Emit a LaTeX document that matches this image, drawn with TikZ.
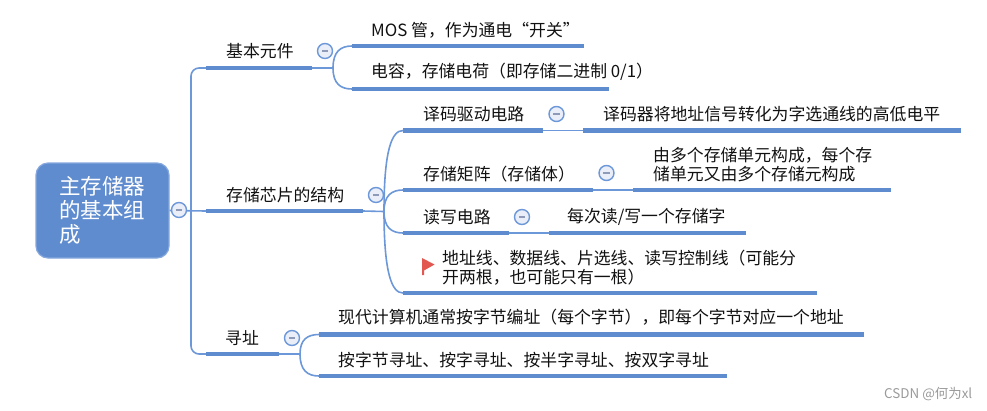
\documentclass[tikz,border=0pt]{standalone}
\usepackage{fontspec}
\setmainfont{Noto Sans CJK SC}
\usetikzlibrary{calc}
\definecolor{mapblue}{HTML}{5F8CCF}
\definecolor{thinblue}{HTML}{6C97D8}
\definecolor{rootedge}{HTML}{86A8DE}
\definecolor{inkdark}{HTML}{111111}
\definecolor{btnfill}{HTML}{E9EEF8}
\definecolor{btnminus}{HTML}{8E9BB8}
\definecolor{flagred}{HTML}{E2574F}
\definecolor{markgrey}{HTML}{9A9A9A}
\tikzset{
  rootbox/.style={draw=rootedge,line width=1.2pt,fill=mapblue,rounded corners=12pt,minimum width=133pt,minimum height=95pt,inner sep=0pt},
  roottext/.style={text=white,anchor=north west,inner sep=0pt,align=left,font=\fontsize{21.5}{24}\selectfont},
  txtlabel/.style={text=inkdark,anchor=west,inner sep=0pt,align=left,font=\fontsize{16.85}{19}\selectfont},
  thickbar/.style={draw=mapblue,line width=4.4pt},
  thinbar/.style={draw=thinblue,line width=1.6pt},
  collapse/.style={circle,draw=thinblue,line width=1.4pt,fill=btnfill,minimum size=15pt,inner sep=0pt},
  minusbar/.style={draw=btnminus,line width=1.2pt},
}
\newcommand{\collapsemark}[3]{\node[collapse] (#1) at (#2,#3) {};\draw[minusbar] ([xshift=-3.2pt]#1.center) -- ([xshift=3.2pt]#1.center);}
\newcommand{\fan}[2]{\draw[thinbar] (#1) .. controls ($(#1)!0.75!(#1|-#2)$) and ($(#2)!0.6!(#1|-#2)$) .. (#2);}
\newcommand{\thickrule}[2]{\draw[thickbar] (#1) -- (#2);}
\newcommand{\thinlink}[2]{\draw[thinbar] (#1) -- (#2);}
\begin{document}
\begin{tikzpicture}[x=1pt,y=-1pt]
\useasboundingbox (0,0) rectangle (987,410);
% bar end points
\coordinate (a1) at (206,68);   \coordinate (a2) at (312,68);
\coordinate (b1) at (206,211);  \coordinate (b2) at (363,211);
\coordinate (c1) at (206,354);  \coordinate (c2) at (279,354);
\coordinate (ja) at (333,68);   \coordinate (jb) at (384,211.5); \coordinate (jc) at (300,354);
\coordinate (trunk) at (191,354);
\coordinate (a11) at (352,46);  \coordinate (a12) at (584,46);
\coordinate (a21) at (352,89);  \coordinate (a22) at (609,89);
\coordinate (d1) at (403,130.5); \coordinate (d2) at (543,130.5);
\coordinate (d3) at (583,130.5); \coordinate (d4) at (961,130.5);
\coordinate (e1) at (403,190);  \coordinate (e2) at (593,190);
\coordinate (e3) at (633,190);  \coordinate (e4) at (891,190);
\coordinate (f1) at (403,233);  \coordinate (f2) at (509,233);
\coordinate (f3) at (549,233);  \coordinate (f4) at (746,233);
\coordinate (g1) at (403,293);  \coordinate (g2) at (817,293);
\coordinate (h1) at (319,334.5); \coordinate (h2) at (864,334.5);
\coordinate (i1) at (319,376);  \coordinate (i2) at (727,376);
% root
\node[rootbox] (root) at (102.5,210.5) {};
\node[roottext] (roottxt) at (59,176.5) {主存储器\\的基本组\\成};
% connectors
\draw[thinbar,rounded corners=8pt] (a1) -| (trunk) -- (c1);
\thinlink{root.east}{b1}
\thinlink{a2}{ja} \thinlink{b2}{jb} \thinlink{c2}{jc}
\thinlink{d2}{d3} \thinlink{e2}{e3} \thinlink{f2}{f3}
\fan{ja}{a11} \fan{ja}{a21}
\fan{jb}{d1} \fan{jb}{e1} \fan{jb}{f1} \fan{jb}{g1}
\fan{jc}{h1} \fan{jc}{i1}
% thick bars
\thickrule{a1}{a2} \thickrule{b1}{b2} \thickrule{c1}{c2}
\thickrule{a11}{a12} \thickrule{a21}{a22}
\thickrule{d1}{d2} \thickrule{d3}{d4} \thickrule{e1}{e2} \thickrule{e3}{e4}
\thickrule{f1}{f2} \thickrule{f3}{f4} \thickrule{g1}{g2}
\thickrule{h1}{h2} \thickrule{i1}{i2}
% collapse buttons
\collapsemark{rootbtn}{179}{210}
\collapsemark{abtn}{325}{51}
\collapsemark{bbtn}{376}{195}
\collapsemark{cbtn}{292}{338}
\collapsemark{dbtn}{556.5}{114}
\collapsemark{ebtn}{606.5}{173}
\collapsemark{fbtn}{522}{217}
% labels
\node[txtlabel] (ta) at (226,51) {基本元件};
\node[txtlabel] (ta1) at (371,30) {MOS 管，作为通电“开关”};
\node[txtlabel] (ta2) at (371,72) {电容，存储电荷（即存储二进制 0/1）};
\node[txtlabel] (tb) at (226,195) {存储芯片的结构};
\node[txtlabel] (td) at (423,114) {译码驱动电路};
\node[txtlabel] (td1) at (603,114) {译码器将地址信号转化为字选通线的高低电平};
\node[txtlabel] (te) at (423,174) {存储矩阵（存储体）};
\node[txtlabel] (te1) at (653,165) {由多个存储单元构成，每个存\\储单元又由多个存储元构成};
\node[txtlabel] (tf) at (423,217) {读写电路};
\node[txtlabel] (tf1) at (567,217) {每次读/写一个存储字};
\node[txtlabel] (tg) at (442,267.5) {地址线、数据线、片选线、读写控制线（可能分\\开两根，也可能只有一根）};
\node[txtlabel] (tc) at (225,338) {寻址};
\node[txtlabel] (th) at (338,317) {现代计算机通常按字节编址（每个字节），即每个字节对应一个地址};
\node[txtlabel] (ti) at (338,360) {按字节寻址、按字寻址、按半字寻址、按双字寻址};
% flag
\fill[flagred] (422,258) -- (434.5,264.5) -- (424,270.5) -- (424,275) -- (422,275) -- cycle;
% watermark
\node[anchor=west,inner sep=0pt,text=markgrey,font=\fontsize{13.4}{15}\selectfont] (wm) at (884,394) {CSDN @何为xl};
\end{tikzpicture}
\end{document}
